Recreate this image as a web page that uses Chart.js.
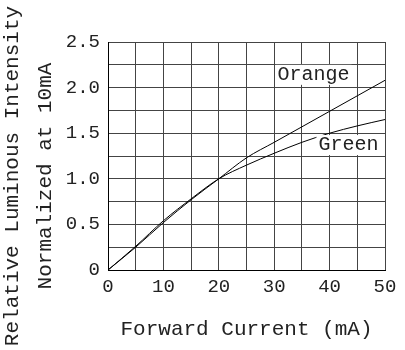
<!DOCTYPE html>
<html>
<head>
<meta charset="utf-8">
<script src="https://cdn.jsdelivr.net/npm/chart.js@4"></script>
<style>
  html, body { margin: 0; padding: 0; background: #fff; }
  #wrap { width: 405px; height: 350px; }
</style>
</head>
<body>
<div id="wrap"><canvas id="chart" width="405" height="350"></canvas></div>
<script>
/* data */
const currents = [0, 5, 10, 15, 20, 25, 30, 35, 40, 45, 50];
const orangeValues = [0, 0.25, 0.52, 0.77, 1.0, 1.23, 1.40, 1.57, 1.74, 1.91, 2.08];
const greenValues = [0, 0.26, 0.54, 0.78, 1.0, 1.15, 1.28, 1.40, 1.50, 1.58, 1.65];

const xTitle = "Forward Current (mA)";
const yTitleLines = ["Relative Luminous Intensity", "Normalized at 10mA"];
const seriesNames = ["Orange", "Green"];

const FONT = "'Liberation Mono', 'DejaVu Sans Mono', monospace";
const INK = "#222";

function toPoints(values) {
  return currents.map((c, i) => ({ x: c, y: values[i] }));
}

/* y titles and the in-plot curve names */
const textPlugin = {
  id: "textPlugin",
  afterDatasetsDraw(chart) {
    const ctx = chart.ctx;
    const xs = chart.scales.x;
    const ys = chart.scales.y;

    // curve labels on white boxes
    const marks = [
      { text: seriesNames[0], x: 37.1, y: 2.14 },
      { text: seriesNames[1], x: 43.4, y: 1.37 },
    ];
    ctx.save();
    ctx.font = "20px " + FONT;
    ctx.textAlign = "center";
    ctx.textBaseline = "middle";
    marks.forEach((m) => {
      const px = xs.getPixelForValue(m.x);
      const py = ys.getPixelForValue(m.y);
      const w = ctx.measureText(m.text).width;
      ctx.fillStyle = "#fff";
      ctx.fillRect(px - w / 2 - 2, py - 10, w + 4, 20);
      ctx.fillStyle = INK;
      ctx.fillText(m.text, px, py);
    });
    ctx.restore();

    // rotated y axis titles
    ctx.save();
    ctx.font = "21px " + FONT;
    ctx.fillStyle = INK;
    ctx.textAlign = "center";
    ctx.textBaseline = "middle";
    const centers = [12, 45];
    yTitleLines.forEach((line, i) => {
      ctx.save();
      ctx.translate(centers[i], 176);
      ctx.rotate(-Math.PI / 2);
      ctx.fillText(line, 0, 0);
      ctx.restore();
    });
    ctx.restore();
  },
};

const config = {
  type: "line",
  data: {
    datasets: [
      {
        label: seriesNames[0],
        data: toPoints(orangeValues),
        borderColor: "#000",
        borderWidth: 1,
        pointRadius: 0,
        cubicInterpolationMode: "monotone",
        fill: false,
      },
      {
        label: seriesNames[1],
        data: toPoints(greenValues),
        borderColor: "#000",
        borderWidth: 1,
        pointRadius: 0,
        cubicInterpolationMode: "monotone",
        fill: false,
      },
    ],
  },
  options: {
    responsive: false,
    animation: false,
    layout: { padding: { top: 42, right: 20, bottom: 0, left: 0 } },
    plugins: {
      legend: { display: false },
      tooltip: { enabled: false },
    },
    scales: {
      x: {
        type: "linear",
        min: 0,
        max: 50,
        border: { color: "#000", width: 1 },
        grid: { color: "#444", lineWidth: 1, drawTicks: false },
        ticks: {
          stepSize: 5,
          padding: 6,
          maxRotation: 0,
          autoSkip: false,
          color: INK,
          font: { family: FONT, size: 19 },
          callback: (v) => (v % 10 === 0 ? String(v) : ""),
        },
        title: {
          display: true,
          text: xTitle,
          color: INK,
          font: { family: FONT, size: 21 },
          padding: { top: 0, bottom: 8 },
        },
        afterFit(scale) {
          scale.height = 80;
        },
      },
      y: {
        min: 0,
        max: 2.5,
        border: { color: "#000", width: 1 },
        grid: { color: "#444", lineWidth: 1, drawTicks: false },
        ticks: {
          stepSize: 0.25,
          padding: 8,
          autoSkip: false,
          color: INK,
          font: { family: FONT, size: 19 },
          callback: (v) => {
            if (Math.abs(v) < 1e-9) return "0";
            return Math.abs((v * 2) % 1) < 1e-9 ? v.toFixed(1) : "";
          },
        },
        afterFit(scale) {
          scale.width = 108;
        },
      },
    },
  },
  plugins: [textPlugin],
};

const myChart = new Chart(document.getElementById("chart"), config);
</script>
</body>
</html>
